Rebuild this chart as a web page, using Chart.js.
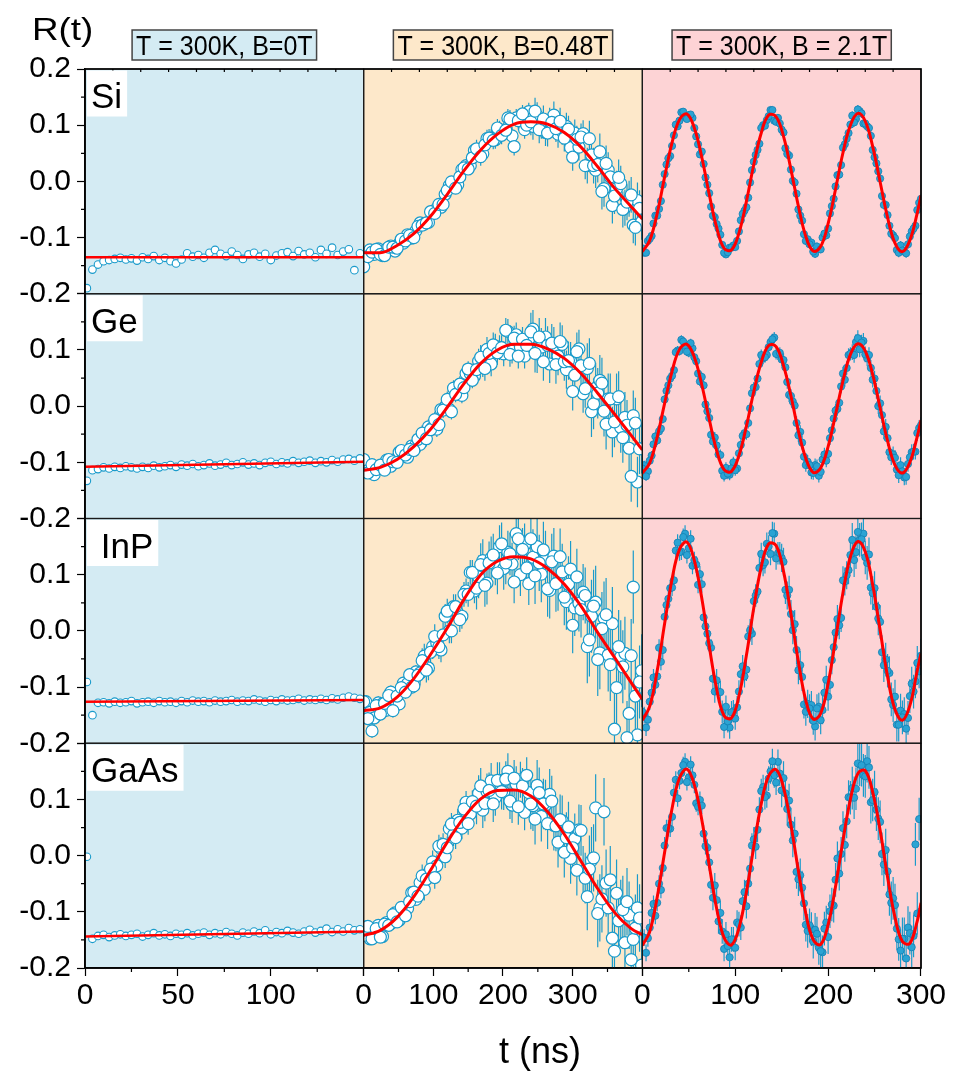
<!DOCTYPE html>
<html>
<head>
<meta charset="utf-8">
<title>R(t)</title>
<script src="https://cdn.jsdelivr.net/npm/chart.js@4.4.1/dist/chart.umd.min.js"></script>
<style>
  html, body { margin: 0; padding: 0; background: #fff; }
  canvas { display: block; }
</style>
</head>
<body>
<canvas id="rt" width="954" height="1071"></canvas>
<script>
// values
var rowNames = ['Si', 'Ge', 'InP', 'GaAs'];
var rowLabels = ['Si', 'Ge', ' InP', 'GaAs'];
var colHeaders = ['T = 300K, B=0T', 'T = 300K, B=0.48T', 'T = 300K, B = 2.1T'];
var colMax = [150, 400, 300];
var colStep = [50, 100, 100];
var colBg = ['#d4ebf3', '#fde8ca', '#fdd3d5'];

// time axes (ns)
var t1 = [1,4,7,10,13,16,19,22,25,28,31,34,37,40,43,46,49,52,55,58,61,64,67,70,73,76,79,82,85,88,91,94,97,100,103,106,109,112,115,118,121,124,127,130,133,136,139,142,145,148];
var t2 = [0,6,12,18,24,30,36,42,48,54,60,66,72,78,84,90,96,102,108,114,120,126,132,138,144,150,156,162,168,174,180,186,192,198,204,210,216,222,228,234,240,246,252,258,264,270,276,282,288,294,300,306,312,318,324,330,336,342,348,354,360,366,372,378,384,390,396];
var t2b = [3,9,15,21,27,33,39,45,51,57,63,69,75,81,87,93,99,105,111,117,123,129,135,141,147,153,159,165,171,177,183,189,195,201,207,213,219,225,231,237,243,249,255,261,267,273,279,285,291,297,303,309,315,321,327,333,339,345,351,357,363,369,375,381,387,393,399];
var t3 = [0,4,8,12,16,20,24,28,32,36,40,44,48,52,56,60,64,68,72,76,80,84,88,92,96,100,104,108,112,116,120,124,128,132,136,140,144,148,152,156,160,164,168,172,176,180,184,188,192,196,200,204,208,212,216,220,224,228,232,236,240,244,248,252,256,260,264,268,272,276,280,284,288,292,296,300];
var t3b = [2,6,10,14,18,22,26,30,34,38,42,46,50,54,58,62,66,70,74,78,82,86,90,94,98,102,106,110,114,118,122,126,130,134,138,142,146,150,154,158,162,166,170,174,178,182,186,190,194,198,202,206,210,214,218,222,226,230,234,238,242,246,250,254,258,262,266,270,274,278,282,286,290,294,298];

// B = 0 T
var siB0 = [-0.19,-0.157,-0.148,-0.142,-0.140,-0.138,-0.136,-0.139,-0.137,-0.141,-0.135,-0.138,-0.133,-0.140,-0.136,-0.142,-0.146,-0.139,-0.128,-0.134,-0.131,-0.136,-0.127,-0.122,-0.129,-0.133,-0.125,-0.131,-0.138,-0.130,-0.127,-0.134,-0.129,-0.140,-0.132,-0.128,-0.126,-0.133,-0.124,-0.130,-0.127,-0.135,-0.122,-0.129,-0.118,-0.131,-0.125,-0.121,-0.158,-0.128];
var geB0 = [-0.133,-0.114,-0.112,-0.109,-0.111,-0.108,-0.110,-0.107,-0.109,-0.111,-0.108,-0.110,-0.106,-0.109,-0.107,-0.105,-0.108,-0.104,-0.106,-0.103,-0.107,-0.105,-0.102,-0.106,-0.104,-0.101,-0.105,-0.103,-0.100,-0.104,-0.102,-0.105,-0.101,-0.099,-0.103,-0.100,-0.102,-0.098,-0.101,-0.099,-0.097,-0.101,-0.098,-0.100,-0.096,-0.099,-0.095,-0.094,-0.097,-0.093];
var inpB0 = [-0.091,-0.150,-0.128,-0.127,-0.129,-0.126,-0.128,-0.127,-0.125,-0.129,-0.127,-0.126,-0.128,-0.125,-0.127,-0.126,-0.128,-0.125,-0.127,-0.124,-0.126,-0.125,-0.127,-0.124,-0.126,-0.125,-0.123,-0.126,-0.124,-0.125,-0.122,-0.124,-0.126,-0.123,-0.125,-0.122,-0.124,-0.123,-0.121,-0.124,-0.122,-0.123,-0.121,-0.123,-0.120,-0.122,-0.119,-0.117,-0.119,-0.121];
var gaasB0 = [-0.002,-0.148,-0.143,-0.141,-0.145,-0.142,-0.140,-0.143,-0.141,-0.139,-0.144,-0.141,-0.138,-0.142,-0.140,-0.143,-0.139,-0.141,-0.138,-0.142,-0.139,-0.137,-0.141,-0.138,-0.140,-0.136,-0.139,-0.142,-0.137,-0.139,-0.135,-0.138,-0.133,-0.140,-0.136,-0.138,-0.134,-0.137,-0.139,-0.135,-0.132,-0.137,-0.134,-0.130,-0.136,-0.131,-0.135,-0.129,-0.133,-0.131];

// B = 0.48 T (two interleaved runs)
var siB048 = [-0.152,-0.134,-0.126,-0.121,-0.130,-0.132,-0.117,-0.117,-0.119,-0.103,-0.106,-0.096,-0.100,-0.080,-0.078,-0.074,-0.054,-0.057,-0.041,-0.041,-0.016,-0.001,-0.012,0.008,0.024,0.022,0.042,0.058,0.044,0.065,0.077,0.073,0.095,0.082,0.091,0.111,0.062,0.108,0.120,0.100,0.106,0.125,0.092,0.111,0.086,0.105,0.094,0.107,0.077,0.093,0.043,0.075,0.079,0.028,0.076,0.028,0.030,-0.018,0.032,0.008,-0.026,0.007,-0.050,-0.037,-0.024,-0.082,-0.048];
var siB048b = [-0.132,-0.122,-0.130,-0.120,-0.132,-0.120,-0.115,-0.124,-0.111,-0.110,-0.095,-0.101,-0.088,-0.074,-0.076,-0.073,-0.054,-0.048,-0.046,-0.023,-0.007,-0.009,-0.006,0.021,0.028,0.028,0.055,0.051,0.049,0.076,0.077,0.074,0.092,0.089,0.113,0.081,0.113,0.107,0.092,0.124,0.098,0.117,0.100,0.087,0.107,0.118,0.084,0.089,0.098,0.060,0.086,0.061,0.085,0.028,0.047,0.020,0.053,-0.013,0.020,-0.043,-0.013,-0.004,-0.047,-0.031,-0.078,-0.034,-0.072];
var geB048 = [-0.095,-0.119,-0.104,-0.113,-0.105,-0.114,-0.095,-0.099,-0.100,-0.079,-0.087,-0.077,-0.079,-0.059,-0.048,-0.058,-0.042,-0.024,-0.033,-0.007,0.012,-0.010,0.021,0.039,0.033,0.066,0.046,0.065,0.087,0.067,0.094,0.109,0.095,0.104,0.135,0.092,0.121,0.089,0.119,0.108,0.132,0.094,0.123,0.079,0.108,0.112,0.074,0.115,0.079,0.081,0.026,0.097,0.072,0.031,0.076,0.004,0.023,0.041,-0.032,0.013,-0.028,0.017,-0.056,-0.034,-0.125,-0.030,-0.076];
var geB048b = [-0.111,-0.107,-0.122,-0.109,-0.111,-0.096,-0.107,-0.095,-0.082,-0.090,-0.091,-0.071,-0.069,-0.068,-0.050,-0.037,-0.038,-0.041,-0.006,-0.002,-0.006,0.032,0.023,0.019,0.058,0.058,0.053,0.080,0.074,0.101,0.075,0.107,0.104,0.093,0.133,0.098,0.127,0.105,0.089,0.119,0.137,0.093,0.105,0.123,0.075,0.107,0.089,0.110,0.065,0.080,0.055,0.102,0.022,0.067,-0.010,0.032,0.046,-0.009,0.013,-0.046,0.013,-0.038,-0.020,-0.075,-0.017,-0.135,-0.075];
var inpB048 = [-0.126,-0.156,-0.178,-0.133,-0.148,-0.129,-0.115,-0.142,-0.116,-0.101,-0.109,-0.078,-0.098,-0.079,-0.053,-0.070,-0.038,-0.010,-0.028,-0.007,0.035,0.000,0.043,0.020,0.065,0.065,0.104,0.076,0.118,0.081,0.121,0.135,0.103,0.155,0.121,0.137,0.087,0.164,0.145,0.112,0.164,0.098,0.121,0.144,0.075,0.123,0.084,0.132,0.060,0.083,0.010,0.096,0.038,0.063,-0.016,0.044,-0.051,0.004,0.029,-0.060,-0.175,-0.028,-0.064,-0.190,-0.044,-0.116,-0.091];
var inpB048b = [-0.126,-0.145,-0.155,-0.128,-0.130,-0.141,-0.109,-0.123,-0.130,-0.093,-0.094,-0.100,-0.073,-0.075,-0.045,-0.066,-0.028,-0.022,-0.034,0.026,0.000,0.043,0.032,0.026,0.071,0.104,0.071,0.096,0.125,0.085,0.130,0.119,0.150,0.111,0.140,0.119,0.173,0.100,0.153,0.084,0.131,0.150,0.101,0.128,0.072,0.133,0.086,0.105,0.052,0.110,0.041,0.049,0.069,-0.028,0.026,0.051,-0.039,0.023,-0.043,0.013,-0.101,-0.046,-0.040,-0.147,0.078,-0.185,-0.071];
var gaasB048 = [-0.142,-0.126,-0.148,-0.130,-0.145,-0.122,-0.124,-0.105,-0.118,-0.092,-0.107,-0.082,-0.065,-0.072,-0.036,-0.042,-0.024,-0.039,0.017,0.020,0.014,0.056,0.032,0.059,0.083,0.057,0.096,0.088,0.124,0.093,0.116,0.092,0.134,0.114,0.136,0.097,0.138,0.087,0.124,0.143,0.092,0.065,0.112,0.092,0.057,0.097,0.053,0.064,0.006,0.051,0.014,-0.026,0.045,-0.040,-0.024,-0.004,-0.103,-0.077,-0.049,-0.043,-0.170,-0.116,-0.096,-0.082,-0.185,-0.129,-0.111];
var gaasB048b = [-0.127,-0.148,-0.138,-0.124,-0.144,-0.119,-0.121,-0.102,-0.115,-0.094,-0.094,-0.066,-0.078,-0.048,-0.060,-0.031,-0.011,-0.018,0.013,-0.002,0.048,0.037,0.063,0.049,0.095,0.074,0.091,0.111,0.081,0.114,0.133,0.103,0.134,0.113,0.150,0.090,0.127,0.135,0.077,0.112,0.089,0.125,0.070,0.090,0.109,0.054,0.024,0.062,0.032,-0.005,0.030,0.046,-0.028,-0.073,-0.009,0.085,-0.093,0.078,-0.093,-0.147,-0.067,-0.103,-0.155,-0.106,-0.149,-0.093,-0.195];

// B = 2.1 T (two interleaved runs)
var siB21 = [-0.119,-0.127,-0.102,-0.075,-0.061,-0.035,0.013,0.041,0.063,0.101,0.108,0.124,0.111,0.119,0.095,0.066,0.053,0.007,-0.021,-0.061,-0.076,-0.095,-0.127,-0.126,-0.118,-0.117,-0.089,-0.058,-0.046,-0.002,0.035,0.056,0.095,0.099,0.116,0.127,0.106,0.103,0.087,0.049,0.021,-0.002,-0.050,-0.070,-0.106,-0.112,-0.125,-0.116,-0.121,-0.093,-0.084,-0.044,-0.009,0.012,0.060,0.076,0.101,0.105,0.128,0.121,0.103,0.095,0.056,0.032,0.005,-0.042,-0.060,-0.093,-0.101,-0.127,-0.123,-0.128,-0.098,-0.084,-0.051,-0.031];
var siB21b = [-0.127,-0.106,-0.097,-0.061,-0.049,-0.006,0.030,0.045,0.082,0.098,0.123,0.114,0.118,0.113,0.080,0.048,0.031,-0.006,-0.045,-0.064,-0.084,-0.113,-0.130,-0.118,-0.114,-0.106,-0.069,-0.052,-0.029,0.020,0.047,0.067,0.100,0.109,0.127,0.108,0.113,0.092,0.059,0.046,0.001,-0.022,-0.061,-0.094,-0.103,-0.109,-0.129,-0.120,-0.100,-0.096,-0.057,-0.031,0.011,0.029,0.066,0.086,0.117,0.111,0.125,0.103,0.098,0.081,0.043,0.018,-0.026,-0.042,-0.079,-0.096,-0.122,-0.114,-0.125,-0.112,-0.089,-0.079,-0.038];
var geB21 = [-0.111,-0.125,-0.097,-0.068,-0.061,-0.040,0.012,0.037,0.054,0.096,0.098,0.115,0.097,0.112,0.087,0.058,0.052,0.003,-0.021,-0.063,-0.070,-0.087,-0.124,-0.120,-0.111,-0.114,-0.084,-0.053,-0.050,-0.004,0.033,0.049,0.091,0.087,0.105,0.119,0.093,0.095,0.082,0.043,0.018,0.001,-0.052,-0.065,-0.105,-0.105,-0.119,-0.107,-0.117,-0.086,-0.085,-0.043,-0.008,0.006,0.058,0.068,0.093,0.091,0.121,0.113,0.092,0.091,0.047,0.027,0.005,-0.045,-0.057,-0.091,-0.092,-0.123,-0.116,-0.126,-0.091,-0.081,-0.048,-0.034];
var geB21b = [-0.105,-0.116,-0.088,-0.054,-0.045,-0.023,0.027,0.049,0.064,0.099,0.118,0.107,0.095,0.103,0.080,0.044,0.037,-0.009,-0.051,-0.056,-0.086,-0.115,-0.110,-0.122,-0.100,-0.111,-0.069,-0.048,-0.030,0.023,0.034,0.075,0.085,0.091,0.114,0.122,0.092,0.083,0.069,0.020,0.008,-0.030,-0.046,-0.090,-0.099,-0.118,-0.105,-0.124,-0.095,-0.097,-0.057,-0.022,-0.005,0.035,0.047,0.091,0.096,0.114,0.101,0.116,0.085,0.068,0.049,0.000,-0.016,-0.037,-0.082,-0.086,-0.113,-0.105,-0.127,-0.103,-0.082,-0.081,-0.039];
var inpB21 = [-0.144,-0.172,-0.126,-0.083,-0.081,-0.055,0.025,0.057,0.077,0.143,0.140,0.167,0.135,0.164,0.126,0.082,0.083,0.008,-0.022,-0.085,-0.088,-0.109,-0.171,-0.161,-0.145,-0.156,-0.108,-0.063,-0.069,0.001,0.053,0.070,0.137,0.122,0.150,0.174,0.129,0.138,0.123,0.063,0.030,0.012,-0.070,-0.082,-0.144,-0.138,-0.160,-0.138,-0.159,-0.110,-0.117,-0.052,-0.003,0.010,0.090,0.099,0.135,0.126,0.176,0.163,0.131,0.136,0.067,0.043,0.016,-0.061,-0.071,-0.122,-0.117,-0.167,-0.154,-0.174,-0.116,-0.108,-0.057,-0.044];
var inpB21b = [-0.150,-0.158,-0.110,-0.096,-0.030,-0.034,0.046,0.076,0.090,0.157,0.141,0.173,0.147,0.116,0.118,0.101,0.024,-0.005,-0.030,-0.108,-0.108,-0.144,-0.135,-0.172,-0.143,-0.136,-0.077,-0.081,-0.010,-0.005,0.063,0.112,0.117,0.155,0.137,0.173,0.138,0.130,0.073,0.073,0.001,-0.034,-0.061,-0.131,-0.130,-0.132,-0.170,-0.135,-0.141,-0.087,-0.096,-0.029,0.021,0.023,0.088,0.108,0.162,0.140,0.162,0.173,0.121,0.077,0.076,0.022,-0.038,-0.051,-0.075,-0.132,-0.167,-0.142,-0.148,-0.155,-0.094,-0.090,-0.072];
var gaasB21 = [-0.145,-0.173,-0.128,-0.086,-0.084,-0.061,0.018,0.049,0.069,0.135,0.133,0.161,0.131,0.162,0.126,0.087,0.089,0.017,-0.012,-0.075,-0.079,-0.102,-0.166,-0.161,-0.149,-0.164,-0.122,-0.081,-0.090,-0.023,0.029,0.046,0.115,0.104,0.137,0.168,0.130,0.146,0.138,0.083,0.055,0.039,-0.042,-0.057,-0.123,-0.124,-0.153,-0.139,-0.170,-0.130,-0.145,-0.087,-0.043,-0.032,0.049,0.061,0.103,0.103,0.164,0.161,0.141,0.157,0.099,0.082,0.060,-0.016,-0.028,-0.084,-0.088,-0.149,-0.148,-0.183,-0.138,-0.143,-0.103,-0.099];
var gaasB21b = [-0.146,-0.147,-0.102,-0.107,-0.050,-0.022,0.049,0.048,0.112,0.102,0.147,0.167,0.139,0.143,0.093,0.099,0.039,0.014,-0.052,-0.053,-0.117,-0.135,-0.140,-0.181,-0.149,-0.119,-0.128,-0.065,-0.050,0.018,0.016,0.082,0.122,0.107,0.150,0.143,0.167,0.116,0.111,0.098,0.027,-0.029,-0.035,-0.085,-0.134,-0.131,-0.132,-0.164,-0.172,-0.119,-0.099,-0.089,-0.005,0.003,0.019,0.104,0.120,0.119,0.162,0.143,0.168,0.095,0.113,0.066,0.003,0.010,-0.069,-0.076,-0.130,-0.169,-0.148,-0.128,-0.163,0.020,0.065];

// fitted curves
var fitT1 = [0, 150];
var siFitB0 = [-0.135, -0.135];
var geFitB0 = [-0.108, -0.099];
var inpFitB0 = [-0.126, -0.123];
var gaasFitB0 = [-0.144, -0.135];

var fitT2 = [0,24,48,72,96,120,144,168,192,216,240,264,288,312,336,360,384,400];
var siFitB048 = [-0.127,-0.127,-0.114,-0.093,-0.062,-0.023,0.019,0.056,0.084,0.102,0.106,0.102,0.087,0.061,0.026,-0.012,-0.045,-0.067];
var geFitB048 = [-0.114,-0.109,-0.095,-0.072,-0.041,-0.002,0.040,0.076,0.100,0.110,0.110,0.102,0.085,0.058,0.023,-0.014,-0.052,-0.078];
var inpFitB048 = [-0.142,-0.137,-0.118,-0.085,-0.042,0.005,0.056,0.100,0.124,0.132,0.128,0.111,0.083,0.044,-0.003,-0.047,-0.092,-0.122];
var gaasFitB048 = [-0.142,-0.133,-0.110,-0.073,-0.026,0.024,0.068,0.101,0.116,0.117,0.106,0.078,0.038,-0.010,-0.059,-0.101,-0.130,-0.141];

var fitT3 = [0,8,16,24,32,40,48,56,64,72,80,88,96,104,112,120,128,136,144,152,160,168,176,184,192,200,208,216,224,232,240,248,256,264,272,280,288,296,300];
var siFitB21 = [-0.125,-0.105,-0.057,0.008,0.069,0.110,0.120,0.095,0.043,-0.023,-0.082,-0.119,-0.122,-0.092,-0.036,0.030,0.086,0.118,0.115,0.080,0.021,-0.044,-0.098,-0.124,-0.116,-0.075,-0.014,0.051,0.100,0.121,0.107,0.062,-0.001,-0.064,-0.110,-0.125,-0.105,-0.056,-0.025];
var geFitB21 = [-0.119,-0.101,-0.055,0.005,0.062,0.101,0.110,0.087,0.038,-0.023,-0.079,-0.113,-0.116,-0.088,-0.036,0.026,0.078,0.108,0.106,0.072,0.018,-0.044,-0.093,-0.118,-0.110,-0.072,-0.015,0.045,0.092,0.111,0.098,0.056,-0.003,-0.062,-0.105,-0.119,-0.100,-0.054,-0.025];
var inpFitB21 = [-0.159,-0.134,-0.071,0.013,0.092,0.145,0.158,0.125,0.058,-0.027,-0.103,-0.151,-0.155,-0.116,-0.044,0.041,0.114,0.155,0.152,0.106,0.030,-0.055,-0.124,-0.157,-0.147,-0.094,-0.015,0.068,0.132,0.159,0.141,0.082,0.001,-0.081,-0.140,-0.159,-0.133,-0.070,-0.040];
var gaasFitB21 = [-0.160,-0.135,-0.074,0.006,0.084,0.138,0.154,0.126,0.064,-0.017,-0.094,-0.146,-0.159,-0.129,-0.065,0.016,0.092,0.142,0.153,0.121,0.054,-0.027,-0.103,-0.150,-0.158,-0.123,-0.055,0.027,0.100,0.146,0.151,0.113,0.045,-0.038,-0.110,-0.153,-0.156,-0.116,-0.084];

// error bar half-heights, one value per stretch of the time axis
var errB0 = [[0.005], [0.003], [0.003], [0.004]];
var errB048 = [[0.006,0.01,0.016,0.024,0.032], [0.008,0.014,0.022,0.034,0.045], [0.012,0.022,0.038,0.05,0.065], [0.01,0.02,0.032,0.045,0.06]];
var errB21 = [[0.005,0.006,0.007,0.008], [0.008,0.01,0.012,0.014], [0.015,0.02,0.025,0.03], [0.015,0.022,0.03,0.038]];

var FONT = "'Liberation Sans', Arial, sans-serif";
var BLUE = '#1a9bcb';
var RED = '#ff0000';
Chart.defaults.font.family = FONT;
Chart.defaults.color = '#000';

var cols = [
  { runs: [{ t: t1, data: [siB0, geB0, inpB0, gaasB0] }],
    fitT: fitT1, fits: [siFitB0, geFitB0, inpFitB0, gaasFitB0], err: errB0,
    radius: 3.8, face: '#ffffff', edge: BLUE, edgeW: 1.1, fitW: 2.5 },
  { runs: [{ t: t2, data: [siB048, geB048, inpB048, gaasB048] }, { t: t2b, data: [siB048b, geB048b, inpB048b, gaasB048b] }],
    fitT: fitT2, fits: [siFitB048, geFitB048, inpFitB048, gaasFitB048], err: errB048,
    radius: 6, face: '#ffffff', edge: BLUE, edgeW: 1.2, fitW: 3, mono: true },
  { runs: [{ t: t3, data: [siB21, geB21, inpB21, gaasB21] }, { t: t3b, data: [siB21b, geB21b, inpB21b, gaasB21b] }],
    fitT: fitT3, fits: [siFitB21, geFitB21, inpFitB21, gaasFitB21], err: errB21,
    radius: 3.6, face: '#2ba3d3', edge: '#137fb3', edgeW: 0.8, fitW: 3, tension: 0.4 }
];

var datasets = [];
cols.forEach(function (c, j) {
  rowNames.forEach(function (name, i) {
    var seg = c.err[i];
    datasets.push({
      type: 'line', label: name + ' fit', xAxisID: 'x' + j, yAxisID: 'y' + i, order: 0,
      data: c.fitT.map(function (t, k) { return { x: t, y: c.fits[i][k] }; }),
      borderColor: RED, borderWidth: c.fitW, pointRadius: 0, fill: false,
      tension: c.tension || 0, cubicInterpolationMode: c.mono ? 'monotone' : 'default'
    });
    c.runs.forEach(function (run) {
      datasets.push({
        type: 'scatter', label: name, xAxisID: 'x' + j, yAxisID: 'y' + i, order: 1,
        data: run.t.map(function (t, k) { return { x: t, y: run.data[i][k] }; }),
        errs: run.t.map(function (t) { return seg[Math.min(seg.length - 1, Math.floor(t / colMax[j] * seg.length))]; }),
        pointRadius: c.radius, pointBackgroundColor: c.face, pointBorderColor: c.edge, pointBorderWidth: c.edgeW
      });
    });
  });
});

var scales = {};
colMax.forEach(function (mx, j) {
  scales['x' + j] = {
    type: 'linear', position: 'bottom', stack: 'cols', stackWeight: 1,
    min: 0, max: mx,
    afterFit: function (s) { s.height = 103; },
    border: { display: true, color: '#000', width: 1.5 },
    grid: { drawOnChartArea: false, drawTicks: true, tickLength: 8, tickColor: '#000', tickWidth: 1.2 },
    ticks: {
      stepSize: colStep[j], autoSkip: false, maxRotation: 0, minRotation: 0, padding: 2,
      color: '#000', font: { size: 30 },
      callback: function (v) { return (v === mx && j < 2) ? '' : String(v); }
    }
  };
});
// left-hand stacks are laid out last-defined-first, so add the bottom row first
for (var r = rowNames.length - 1; r >= 0; r--) {
  (function (i) {
    scales['y' + i] = {
      type: 'linear', position: 'left', stack: 'rows', stackWeight: 1,
      min: -0.2, max: 0.2,
      afterFit: function (s) { s.width = 85; },
      border: { display: true, color: '#000', width: 1.5 },
      grid: { drawOnChartArea: false, drawTicks: true, tickLength: 8, tickColor: '#000', tickWidth: 1.2 },
      ticks: {
        stepSize: 0.1, autoSkip: false, padding: 6, color: '#000', font: { size: 30 },
        callback: function (v) {
          var q = Math.round(v * 10) / 10;
          return (i > 0 && q === 0.2) ? '' : q.toFixed(1);
        }
      }
    };
  })(r);
}

function drawText(ctx, str, x, y, size, align, sx, sy) {
  ctx.save();
  ctx.translate(x, y);
  ctx.scale(sx || 1, sy || 1);
  ctx.font = size + 'px ' + FONT;
  ctx.textAlign = align || 'left';
  ctx.textBaseline = 'alphabetic';
  ctx.fillStyle = '#000';
  ctx.fillText(str, 0, 0);
  ctx.restore();
}

var panels = {
  id: 'panels',
  beforeDraw: function (chart) {
    var ctx = chart.ctx, a = chart.chartArea;
    ctx.save();
    colBg.forEach(function (bg, j) {
      var xs = chart.scales['x' + j];
      ctx.fillStyle = bg;
      ctx.fillRect(xs.left, a.top, xs.right - xs.left, a.bottom - a.top);
    });
    ctx.restore();
  },
  beforeDatasetsDraw: function (chart) {
    var ctx = chart.ctx;
    chart.data.datasets.forEach(function (ds) {
      if (!ds.errs) return;
      var xs = chart.scales[ds.xAxisID], ys = chart.scales[ds.yAxisID];
      ctx.save();
      ctx.beginPath();
      ctx.rect(xs.left, ys.top, xs.right - xs.left, ys.bottom - ys.top);
      ctx.clip();
      ctx.strokeStyle = BLUE;
      ctx.lineWidth = 1.2;
      ctx.beginPath();
      ds.data.forEach(function (p, k) {
        var x = xs.getPixelForValue(p.x);
        ctx.moveTo(x, ys.getPixelForValue(p.y - ds.errs[k]));
        ctx.lineTo(x, ys.getPixelForValue(p.y + ds.errs[k]));
      });
      ctx.stroke();
      ctx.restore();
    });
  },
  afterDraw: function (chart) {
    var ctx = chart.ctx, a = chart.chartArea;
    ctx.save();
    // panel frames
    ctx.strokeStyle = '#1a1a1a';
    ctx.lineWidth = 1.2;
    colMax.forEach(function (mx, j) {
      var xs = chart.scales['x' + j];
      rowNames.forEach(function (n, i) {
        var ys = chart.scales['y' + i];
        ctx.strokeRect(xs.left, ys.top, xs.right - xs.left, ys.bottom - ys.top);
      });
    });
    ctx.lineWidth = 1.5;
    ctx.strokeStyle = '#000';
    ctx.strokeRect(a.left, a.top, a.right - a.left, a.bottom - a.top);

    // minor ticks
    ctx.lineWidth = 1.2;
    ctx.beginPath();
    rowNames.forEach(function (n, i) {
      var ys = chart.scales['y' + i];
      [-0.15, -0.05, 0.05, 0.15].forEach(function (v) {
        var py = ys.getPixelForValue(v);
        ctx.moveTo(a.left - 4, py); ctx.lineTo(a.left, py);
      });
    });
    colMax.forEach(function (mx, j) {
      var xs = chart.scales['x' + j];
      for (var v = colStep[j] / 2; v < mx; v += colStep[j]) {
        var px = xs.getPixelForValue(v);
        ctx.moveTo(px, a.bottom); ctx.lineTo(px, a.bottom + 4);
      }
      for (var k = 1; k < 10; k++) {
        var qx = xs.getPixelForValue(mx * k / 10);
        ctx.moveTo(qx, a.top); ctx.lineTo(qx, a.top + 3);
      }
    });
    ctx.stroke();

    // sample labels
    rowLabels.forEach(function (lab, i) {
      var ys = chart.scales['y' + i];
      ctx.font = '35px ' + FONT;
      var w = ctx.measureText(lab).width;
      ctx.fillStyle = '#ffffff';
      ctx.fillRect(a.left + 2, ys.top + 1.5, w + 9, 46);
      drawText(ctx, lab, a.left + 6, ys.top + 39, 35, 'left');
    });

    // column headers
    colHeaders.forEach(function (h, j) {
      var xs = chart.scales['x' + j];
      var cx = (xs.left + xs.right) / 2;
      ctx.font = '25px ' + FONT;
      var w = ctx.measureText(h).width + 8;
      ctx.fillStyle = colBg[j];
      ctx.fillRect(cx - w / 2, 30, w, 30);
      ctx.strokeStyle = '#444';
      ctx.lineWidth = 1.5;
      ctx.strokeRect(cx - w / 2, 30, w, 30);
      drawText(ctx, h, cx, 55, 25, 'center', 1, 1.12);
    });

    // axis titles
    drawText(ctx, 'R(t)', 32, 40, 32, 'left', 1.15, 1);
    drawText(ctx, 't (ns)', 540, 1063, 36, 'center');
    ctx.restore();
  }
};

new Chart(document.getElementById('rt'), {
  type: 'scatter',
  data: { datasets: datasets },
  options: {
    responsive: false,
    animation: false,
    events: [],
    layout: { padding: { top: 69, right: 33, left: 0, bottom: 0 } },
    plugins: { legend: { display: false }, tooltip: { enabled: false } },
    scales: scales
  },
  plugins: [panels]
});
</script>
</body>
</html>
